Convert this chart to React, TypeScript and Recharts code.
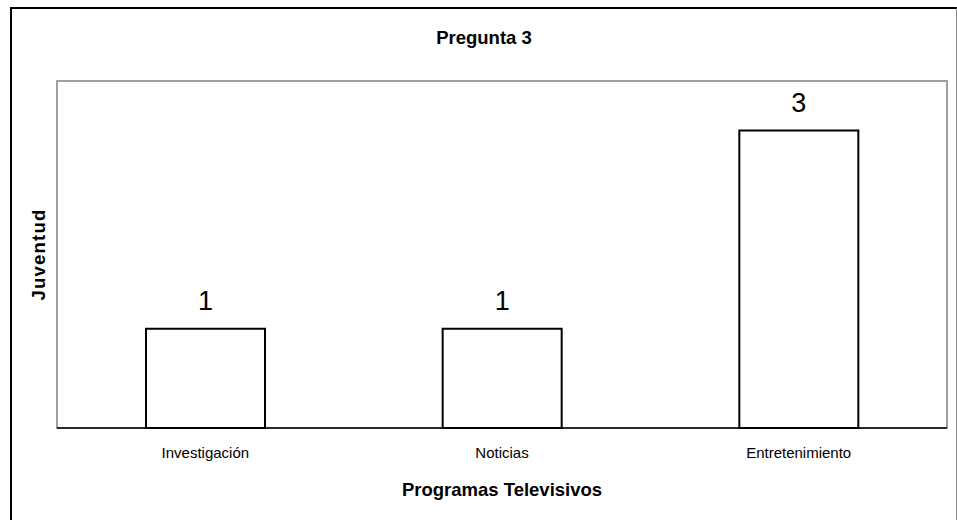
import React from 'react';
import { BarChart, Bar, XAxis, YAxis, LabelList } from 'recharts';

const categories = ['Investigación', 'Noticias', 'Entretenimiento'];
const values = [1, 1, 3];
const bandEdges = [0, 1, 2, 3];

const data = categories.map((name, i) => ({ name, value: values[i] }));

const FONT = '"Liberation Sans", Arial, sans-serif';

export default function App() {
  return (
    <div
      style={{
        position: 'fixed',
        left: 0,
        top: 0,
        width: 957,
        height: 520,
        background: '#fff',
        overflow: 'hidden',
        fontFamily: FONT,
      }}
    >
      {/* outer chart frame */}
      <div
        style={{
          position: 'absolute',
          left: 10,
          top: 7,
          width: 947,
          height: 530,
          boxSizing: 'border-box',
          borderLeft: '2px solid #000',
          borderTop: '2px solid #000',
          borderRight: '1px solid #888',
        }}
      />
      {/* plot area frame */}
      <div
        style={{
          position: 'absolute',
          left: 56,
          top: 80,
          width: 892,
          height: 349,
          boxSizing: 'border-box',
          border: '2px solid #a0a0a0',
        }}
      />
      <div
        style={{
          position: 'absolute',
          left: 0,
          width: 968,
          top: 28,
          textAlign: 'center',
          fontWeight: 'bold',
          fontSize: 18.5,
          lineHeight: '20px',
          color: '#000',
        }}
      >
        Pregunta 3
      </div>
      <div style={{ position: 'absolute', left: 0, top: 0 }}>
        <BarChart
          width={957}
          height={520}
          data={data}
          margin={{ top: 81, right: 10, left: 0, bottom: 0 }}
          barCategoryGap="30%"
        >
          <YAxis
            domain={[0, 3.5]}
            width={57}
            tick={false}
            axisLine={false}
            tickLine={false}
            label={{
              content: (props: any) => {
                const vb = props.viewBox || { x: 0, y: 81, width: 57, height: 347 };
                const cx = vb.x + 38;
                const cy = vb.y + vb.height / 2;
                return (
                  <text
                    x={cx}
                    y={cy}
                    transform={`rotate(-90 ${cx} ${cy})`}
                    textAnchor="middle"
                    dominantBaseline="central"
                    fontFamily={FONT}
                    fontWeight="bold"
                    fontSize={18.5}
                    letterSpacing={1.2}
                    fill="#000"
                  >
                    Juventud
                  </text>
                );
              },
            }}
          />
          <XAxis
            xAxisId="a-edge"
            type="number"
            domain={[0, 3]}
            ticks={bandEdges}
            allowDataOverflow
            height={1}
            tick={false}
            tickSize={6}
            axisLine={{ stroke: '#000', strokeWidth: 1.5 }}
            tickLine={{ stroke: '#000', strokeWidth: 1.5 }}
          />
          <XAxis
            xAxisId="b-cat"
            dataKey="name"
            height={91}
            axisLine={false}
            tickLine={false}
            tickSize={6}
            tickMargin={12}
            tick={{ fontSize: 15, fill: '#000', fontFamily: FONT }}
            label={{
              content: (props: any) => {
                const vb = props.viewBox || { x: 57, y: 429, width: 890, height: 91 };
                return (
                  <text
                    x={vb.x + vb.width / 2}
                    y={vb.y + 60}
                    textAnchor="middle"
                    dominantBaseline="central"
                    fontFamily={FONT}
                    fontWeight="bold"
                    fontSize={18.5}
                    fill="#000"
                  >
                    Programas Televisivos
                  </text>
                );
              },
            }}
          />
          <Bar
            xAxisId="b-cat"
            dataKey="value"
            fill="#fff"
            stroke="#000"
            strokeWidth={2}
            isAnimationActive={false}
          >
            <LabelList
              dataKey="value"
              position="top"
              offset={19}
              fontSize={27}
              fill="#000"
              fontFamily={FONT}
            />
          </Bar>
        </BarChart>
      </div>
    </div>
  );
}
